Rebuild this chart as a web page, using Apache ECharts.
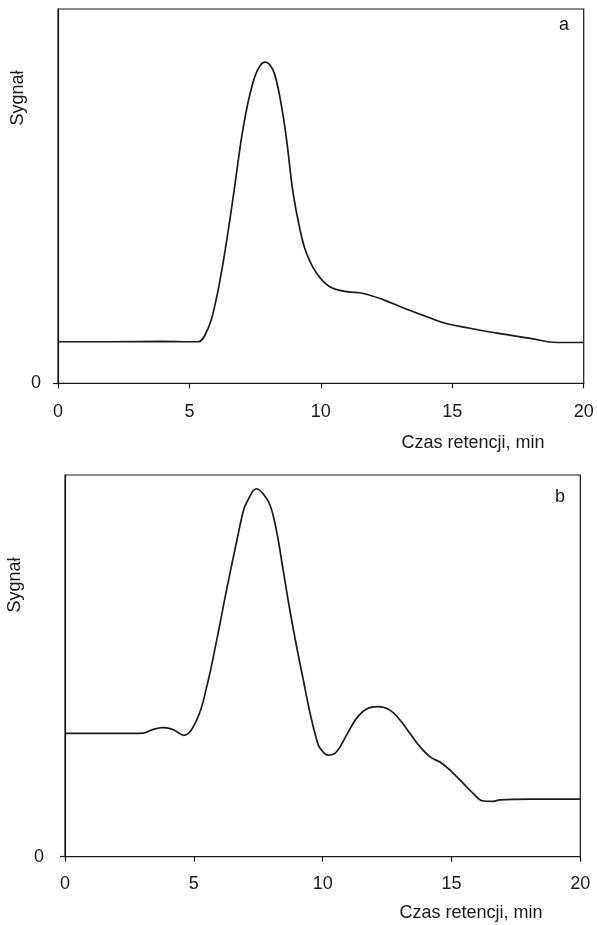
<!DOCTYPE html>
<html><head><meta charset="utf-8">
<script src="https://cdn.jsdelivr.net/npm/echarts@6/dist/echarts.min.js"></script>
<style>html,body{margin:0;padding:0;background:#fff}#c{width:597px;height:925px}</style>
</head><body><div id="c"></div>
<script>
// Chromatogram a
const timeA = [0,2,4,5,5.33,5.71,5.97,6.22,6.47,6.73,6.98,7.17,7.30,7.49,7.68,7.87,8.06,8.25,8.44,8.63,8.75,8.94,9.2,9.45,9.84,10.34,10.98,11.62,12.39,13.15,14.03,14.8,15.68,16.7,17.97,18.98,20];
const signalA = [11.1,11.1,11.2,11.1,11.1,14.7,20.9,29.8,40.5,53.0,65.5,73.0,77.2,82.0,84.8,85.8,85.1,82.4,76.5,68.5,62,51,41.3,34.8,29.4,25.8,24.5,24.0,22.3,20.1,17.8,15.9,14.7,13.4,12.0,10.9,10.9];
// Chromatogram b
const timeB = [0,2,3.04,3.4,3.81,4.2,4.6,5.11,5.5,5.89,6.27,6.66,6.92,7.05,7.44,7.83,7.96,8.08,8.25,8.47,8.73,8.99,9.25,9.51,9.77,9.9,10.22,10.54,10.93,11.32,11.71,12.16,12.61,13.0,13.39,13.78,14.16,14.62,15.0,15.46,15.84,16.23,16.62,16.88,18.06,20];
const signalB = [32.3,32.3,32.4,33.3,33.8,33.3,31.8,35.8,44.5,56.8,69.9,82.5,90.5,92.8,96.4,93.8,92.0,89.4,84,75,64.5,55.0,46.3,37.6,30.6,28.4,26.6,27.5,31.9,36.3,38.7,39.3,38.4,35.8,32.3,28.8,26.2,24.5,22.3,19.2,16.6,14.6,14.5,14.9,15.1,15.1];
const xTicks = [0,5,10,15,20];
const yTicks = [0];
const xName = 'Czas retencji, min';
const yName = 'Sygnał';
const panelLabels = ['a','b'];

const zip = (t, v) => t.map((x, i) => [x, v[i]]);
const font = 'Liberation Sans, Arial, sans-serif';
const ink = '#1a1a1a';

function xAxis(gi, m){
  return {gridIndex: gi, type:'value', min:0, max:20, interval:5,
    axisLine:{show:true, onZero:false, lineStyle:{color:ink, width:1.2}},
    axisTick:{show:true, inside:false, length:5, lineStyle:{color:ink, width:1.2}, customValues: xTicks},
    axisLabel:{color:ink, fontSize:18, fontFamily:font, margin:m, customValues: xTicks},
    splitLine:{show:false}};
}
function yAxis(gi, m){
  return {gridIndex: gi, type:'value', min:0, max:100,
    axisLine:{show:true, lineStyle:{color:ink, width:1.2}},
    axisTick:{show:true, length:5, lineStyle:{color:ink, width:1.2}, customValues: yTicks},
    axisLabel:{color:ink, fontSize:18, fontFamily:font, margin:m, customValues: yTicks},
    splitLine:{show:false}};
}

const chart = echarts.init(document.getElementById('c'), null, {renderer:'canvas'});
chart.setOption({
  animation:false,
  backgroundColor:'#fff',
  grid:[
    {left:58, top:9, right:13.3, bottom:541.7, show:true, borderColor:ink, borderWidth:1.2},
    {left:65, top:475, right:16.7, bottom:68.3, show:true, borderColor:ink, borderWidth:1.2}
  ],
  xAxis:[xAxis(0, 20), xAxis(1, 18)],
  yAxis:[yAxis(0, 17), yAxis(1, 21)],
  series:[
    {type:'line', xAxisIndex:0, yAxisIndex:0, data:zip(timeA, signalA), smooth:0.4, showSymbol:false,
     lineStyle:{color:ink, width:1.7}},
    {type:'line', xAxisIndex:1, yAxisIndex:1, data:zip(timeB, signalB), smooth:0.4, showSymbol:false,
     lineStyle:{color:ink, width:1.7}}
  ],
  graphic:[
    {type:'text', x:473, y:443, style:{text:xName, fill:ink, font:'18px '+font, align:'center', verticalAlign:'middle'}},
    {type:'text', x:471, y:913, style:{text:xName, fill:ink, font:'18px '+font, align:'center', verticalAlign:'middle'}},
    {type:'text', x:18, y:98, rotation:Math.PI/2, style:{text:yName, fill:ink, font:'18px '+font, align:'center', verticalAlign:'middle'}},
    {type:'text', x:15, y:585, rotation:Math.PI/2, style:{text:yName, fill:ink, font:'18px '+font, align:'center', verticalAlign:'middle'}},
    {type:'text', x:564, y:25, style:{text:panelLabels[0], fill:ink, font:'18px '+font, align:'center', verticalAlign:'middle'}},
    {type:'text', x:560, y:497, style:{text:panelLabels[1], fill:ink, font:'18px '+font, align:'center', verticalAlign:'middle'}}
  ]
});
</script></body></html>
